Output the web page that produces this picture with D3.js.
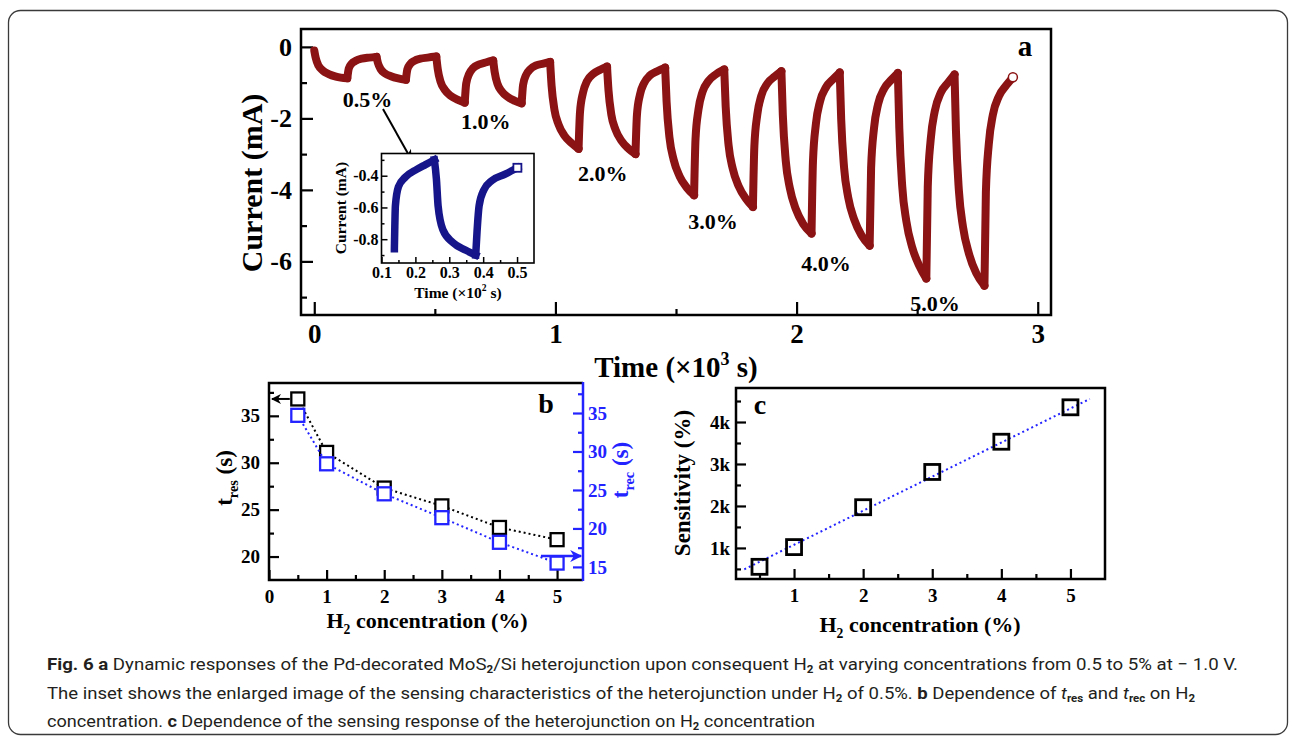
<!DOCTYPE html>
<html>
<head>
<meta charset="utf-8">
<script src="https://cdn.jsdelivr.net/npm/d3@7"></script>
<style>
  body { margin: 0; background: #fff; }
  svg { display: block; }
</style>
</head>
<body>
<svg id="fig" width="1296" height="739"></svg>
<script>
// ---- panel a: current vs time (×10³ s) ----
const timeA = [
  0.000, 0.006, 0.018, 0.035, 0.060, 0.090, 0.137,
  0.143, 0.155, 0.172, 0.197, 0.227, 0.258,
  0.264, 0.276, 0.293, 0.318, 0.348, 0.380,
  0.386, 0.398, 0.415, 0.440, 0.470, 0.506,
  0.512, 0.524, 0.541, 0.566, 0.596, 0.624,
  0.630, 0.642, 0.659, 0.684, 0.714, 0.742,
  0.748, 0.760, 0.777, 0.802, 0.832, 0.860,
  0.866, 0.878, 0.895, 0.920, 0.950, 0.978,
  0.984, 0.996, 1.013, 1.038, 1.068, 1.096,
  1.102, 1.114, 1.131, 1.156, 1.186, 1.214,
  1.220, 1.232, 1.249, 1.274, 1.304, 1.332,
  1.338, 1.350, 1.367, 1.392, 1.422, 1.455,
  1.461, 1.473, 1.490, 1.515, 1.545, 1.575,
  1.581, 1.593, 1.610, 1.635, 1.665, 1.700,
  1.706, 1.718, 1.735, 1.760, 1.790, 1.819,
  1.825, 1.837, 1.854, 1.879, 1.909, 1.937,
  1.943, 1.955, 1.972, 1.997, 2.027, 2.062,
  2.068, 2.080, 2.097, 2.122, 2.152, 2.179,
  2.185, 2.197, 2.214, 2.239, 2.269, 2.303,
  2.309, 2.321, 2.338, 2.363, 2.393, 2.420,
  2.426, 2.438, 2.455, 2.480, 2.510, 2.538,
  2.544, 2.556, 2.573, 2.598, 2.628, 2.655,
  2.661, 2.673, 2.690, 2.715, 2.745, 2.779,
  2.785, 2.797, 2.814, 2.839, 2.869, 2.897
];
const currentA = [
  -0.10, -0.31, -0.53, -0.66, -0.76, -0.83, -0.88,
  -0.61, -0.47, -0.39, -0.33, -0.30, -0.28,
  -0.45, -0.63, -0.74, -0.82, -0.88, -0.92,
  -0.63, -0.48, -0.39, -0.33, -0.30, -0.27,
  -0.62, -0.98, -1.20, -1.37, -1.48, -1.56,
  -1.03, -0.76, -0.59, -0.49, -0.43, -0.38,
  -0.70, -1.04, -1.24, -1.40, -1.51, -1.58,
  -1.06, -0.79, -0.63, -0.52, -0.47, -0.42,
  -1.08, -1.76, -2.17, -2.49, -2.70, -2.85,
  -1.82, -1.29, -0.96, -0.76, -0.64, -0.55,
  -1.21, -1.90, -2.31, -2.63, -2.85, -3.00,
  -1.91, -1.35, -1.02, -0.80, -0.68, -0.58,
  -1.54, -2.54, -3.15, -3.62, -3.94, -4.15,
  -2.57, -1.76, -1.26, -0.95, -0.77, -0.63,
  -1.67, -2.75, -3.40, -3.90, -4.25, -4.48,
  -2.77, -1.90, -1.36, -1.02, -0.83, -0.68,
  -1.91, -3.18, -3.95, -4.54, -4.95, -5.22,
  -3.20, -2.16, -1.53, -1.13, -0.90, -0.72,
  -2.03, -3.38, -4.21, -4.83, -5.27, -5.56,
  -3.39, -2.28, -1.60, -1.17, -0.92, -0.73,
  -2.28, -3.89, -4.87, -5.62, -6.14, -6.48,
  -3.91, -2.60, -1.80, -1.28, -1.00, -0.77,
  -2.37, -4.02, -5.03, -5.79, -6.33, -6.68,
  -4.06, -2.72, -1.90, -1.38, -1.08, -0.85
];
const concLabelsA = ['0.5%', '1.0%', '2.0%', '3.0%', '4.0%', '5.0%'];
const concLabelT = [0.221, 0.711, 1.196, 1.653, 2.122, 2.574];
const concLabelI = [-1.47, -2.07, -3.54, -4.87, -6.06, -7.17];

// inset (time ×10² s as printed)
const timeInset = [0.138, 0.139, 0.141, 0.150, 0.170, 0.204, 0.230, 0.256,
                   0.262, 0.267, 0.281, 0.310, 0.349, 0.378,
                   0.382, 0.388, 0.402, 0.426, 0.465, 0.501];
const currentInset = [-0.86, -0.75, -0.59, -0.47, -0.41, -0.36, -0.33, -0.30,
                      -0.42, -0.59, -0.74, -0.82, -0.87, -0.90,
                      -0.75, -0.59, -0.49, -0.43, -0.39, -0.35];

// ---- panel b ----
const concB = [0.5, 1, 2, 3, 4, 5];
const tRes = [36.8, 31.1, 27.3, 25.4, 23.1, 21.8];
const tRec = [34.7, 28.4, 24.5, 21.4, 18.2, 15.5];

// ---- panel c ----
const concC = [0.5, 1, 2, 3, 4, 5];
const sensitivity = [550, 1020, 1970, 2810, 3530, 4350];
const fitX = [0.28, 5.28];
const fitY = [490, 4550];

const serif = "'Liberation Serif', 'Times New Roman', serif";
const narrow = "'Liberation Sans Narrow', 'Roboto', 'Open Sans', sans-serif";
const RED = '#8b1313';
const NAVY = '#16168a';
const BLUE = '#2323ff';

const svg = d3.select('#fig');
svg.append('rect').attr('width', 1296).attr('height', 739).attr('fill', '#fff');

const defs = svg.append('defs');
function arrowMarker(id, color, w, h) {
    defs.append('marker')
        .attr('id', id)
        .attr('viewBox', '0 0 10 10')
        .attr('refX', 9).attr('refY', 5)
        .attr('markerWidth', w).attr('markerHeight', h)
        .attr('markerUnits', 'userSpaceOnUse')
        .attr('orient', 'auto')
        .append('path').attr('d', 'M0,0 L10,5 L0,10 L3,5 z').attr('fill', color);
}
arrowMarker('arrBlack', '#000', 12, 10);
arrowMarker('arrBlue', BLUE, 14, 12);

// text with sub/superscripts, bold and italic pieces
function richText(parent, x, y, parts, o) {
    const t = parent.append('text')
        .attr('font-family', o.family || serif)
        .attr('font-size', o.size)
        .attr('font-weight', o.weight || 'bold')
        .attr('fill', o.fill || '#000')
        .attr('text-anchor', o.anchor || 'middle');
    if (o.rotate) t.attr('transform', `translate(${x},${y}) rotate(${o.rotate})`);
    else t.attr('x', x).attr('y', y);
    const subShift = o.subShift !== undefined ? o.subShift : 0.28;
    let shift = 0;
    parts.forEach(([s, kind = '']) => {
        const sp = t.append('tspan').text(s);
        const target = kind.includes('sub') ? o.size * subShift : kind.includes('sup') ? -o.size * 0.42 : 0;
        if (target - shift !== 0) sp.attr('dy', target - shift);
        shift = target;
        if (kind.includes('sub') || kind.includes('sup')) sp.attr('font-size', o.size * 0.62);
        if (kind.includes('b')) sp.attr('font-weight', 'bold');
        if (kind.includes('i')) sp.attr('font-style', 'italic');
    });
    if (o.length) t.attr('textLength', o.length).attr('lengthAdjust', 'spacingAndGlyphs');
    return t;
}

function styleAxis(g, size, color) {
    g.select('.domain').remove();
    g.selectAll('.tick line').attr('stroke', color || '#000').attr('stroke-width', 2.2);
    g.selectAll('text')
        .attr('font-family', serif)
        .attr('font-weight', 'bold')
        .attr('font-size', size)
        .attr('fill', color || '#000');
}

function frame(g, box, w) {
    g.append('rect')
        .attr('x', box.l).attr('y', box.t)
        .attr('width', box.r - box.l).attr('height', box.b - box.t)
        .attr('fill', 'none').attr('stroke', '#000').attr('stroke-width', w || 2.5);
}

// split a series where it turns, so each rise/fall is drawn monotone
function splitTurns(xs, ys) {
    const segs = [];
    let cur = [[xs[0], ys[0]]];
    let dir = 0;
    for (let i = 1; i < xs.length; i++) {
        const d = Math.sign(ys[i] - ys[i - 1]);
        if (dir !== 0 && d !== dir) {
            segs.push(cur);
            cur = [[xs[i - 1], ys[i - 1]]];
        }
        cur.push([xs[i], ys[i]]);
        dir = d;
    }
    segs.push(cur);
    return segs;
}

// outer rounded border
svg.append('rect')
    .attr('x', 8.5).attr('y', 10.5).attr('width', 1279).attr('height', 724)
    .attr('rx', 12).attr('fill', 'none').attr('stroke', '#3a3a3a').attr('stroke-width', 1.3);

// =============== panel a ===============
const A = { l: 301, r: 1051, t: 29, b: 315 };
const xA = d3.scaleLinear().domain([-0.055, 3.055]).range([A.l, A.r]);
const yA = d3.scaleLinear().domain([-7.5, 0.5]).range([A.b, A.t]);
const gA = svg.append('g');

gA.append('g').attr('transform', `translate(0,${A.b})`)
    .call(d3.axisBottom(xA).tickValues([0.5, 1.5, 2.5]).tickSize(-6).tickFormat(''))
    .call(g => styleAxis(g, 27));
gA.append('g').attr('transform', `translate(0,${A.b})`)
    .call(d3.axisBottom(xA).tickValues([0, 1, 2, 3]).tickSize(-13).tickPadding(9).tickFormat(d => String(d)))
    .call(g => styleAxis(g, 27));
gA.append('g').attr('transform', `translate(${A.l},0)`)
    .call(d3.axisLeft(yA).tickValues([-1, -3, -5, -7]).tickSize(-6).tickFormat(''))
    .call(g => styleAxis(g, 26));
gA.append('g').attr('transform', `translate(${A.l},0)`)
    .call(d3.axisLeft(yA).tickValues([0, -2, -4, -6]).tickSize(-12).tickPadding(9).tickFormat(d => String(d)))
    .call(g => styleAxis(g, 26));

const lineA = d3.line().x(d => xA(d[0])).y(d => yA(d[1])).curve(d3.curveMonotoneX);
gA.append('g').selectAll('path')
    .data(splitTurns(timeA, currentA))
    .join('path')
    .attr('d', lineA)
    .attr('fill', 'none')
    .attr('stroke', RED)
    .attr('stroke-width', 8)
    .attr('stroke-linecap', 'round')
    .attr('stroke-linejoin', 'round');
// last recorded point: open circle
const nA = timeA.length - 1;
gA.append('circle')
    .attr('cx', xA(timeA[nA])).attr('cy', yA(currentA[nA]))
    .attr('r', 4.5).attr('fill', '#fff').attr('stroke', RED).attr('stroke-width', 1.5);

frame(gA, A);

gA.append('g').selectAll('text')
    .data(concLabelsA)
    .join('text')
    .attr('x', (d, i) => xA(concLabelT[i]))
    .attr('y', (d, i) => yA(concLabelI[i]))
    .attr('dy', '0.35em')
    .attr('text-anchor', 'middle')
    .attr('font-family', serif).attr('font-weight', 'bold').attr('font-size', 22)
    .text(d => d);

gA.append('text')
    .attr('x', 1025).attr('y', 56)
    .attr('text-anchor', 'middle')
    .attr('font-family', serif).attr('font-weight', 'bold').attr('font-size', 29)
    .text('a');

richText(gA, 262, 183, [['Current (mA)']], { size: 30, rotate: -90 });
richText(gA, 676, 377, [['Time (\u00d710'], ['3', 'sup'], [' s)']], { size: 29 });

// ---- inset ----
const I = { l: 381.5, r: 534, t: 153.5, b: 263 };
const xI = d3.scaleLinear().domain([0.1, 0.55]).range([I.l, I.r]);
const yI = d3.scaleLinear().domain([-0.95, -0.26]).range([I.b, I.t]);
const gI = svg.append('g');
gI.append('rect').attr('x', I.l).attr('y', I.t).attr('width', I.r - I.l).attr('height', I.b - I.t).attr('fill', '#fff');

gI.append('g').attr('transform', `translate(0,${I.b})`)
    .call(d3.axisBottom(xI).tickValues([0.15, 0.25, 0.35, 0.45]).tickSize(-3).tickFormat(''))
    .call(g => styleAxis(g, 16));
gI.append('g').attr('transform', `translate(0,${I.b})`)
    .call(d3.axisBottom(xI).tickValues([0.1, 0.2, 0.3, 0.4, 0.5]).tickSize(-6).tickPadding(4).tickFormat(d3.format('.1f')))
    .call(g => styleAxis(g, 16));
gI.append('g').attr('transform', `translate(${I.l},0)`)
    .call(d3.axisLeft(yI).tickValues([-0.3, -0.5, -0.7, -0.9]).tickSize(-3).tickFormat(''))
    .call(g => styleAxis(g, 16));
gI.append('g').attr('transform', `translate(${I.l},0)`)
    .call(d3.axisLeft(yI).tickValues([-0.4, -0.6, -0.8]).tickSize(-6).tickPadding(3).tickFormat(d => d.toFixed(1)))
    .call(g => styleAxis(g, 16));
gI.selectAll('.tick line').attr('stroke-width', 1.5);

const lineI = d3.line().x(d => xI(d[0])).y(d => yI(d[1])).curve(d3.curveMonotoneX);
gI.append('g').selectAll('path')
    .data(splitTurns(timeInset, currentInset))
    .join('path')
    .attr('d', lineI)
    .attr('fill', 'none')
    .attr('stroke', NAVY)
    .attr('stroke-width', 7.5)
    .attr('stroke-linecap', 'square')
    .attr('stroke-linejoin', 'round');
const nI = timeInset.length - 1;
gI.append('rect')
    .attr('x', xI(timeInset[nI]) - 4).attr('y', yI(currentInset[nI]) - 4)
    .attr('width', 8).attr('height', 8)
    .attr('fill', '#fff').attr('stroke', NAVY).attr('stroke-width', 1.8);

frame(gI, I, 1.6);
richText(gI, 346, 208, [['Current (mA)']], { size: 15.5, rotate: -90 });
richText(gI, 458, 298, [['Time (\u00d710'], ['2', 'sup'], [' s)']], { size: 15.5 });

// arrow from the 0.5% label into the inset
gA.append('line')
    .attr('x1', 383).attr('y1', 109).attr('x2', 411).attr('y2', 159)
    .attr('stroke', '#000').attr('stroke-width', 2)
    .attr('marker-end', 'url(#arrBlack)');

// =============== panel b ===============
const B = { l: 269, r: 583, t: 383, b: 580 };
const xB = d3.scaleLinear().domain([0, 5.45]).range([B.l, B.r]);
const yB = d3.scaleLinear().domain([17.5, 38.5]).range([B.b, B.t]);
const yB2 = d3.scaleLinear().domain([13.3, 38.9]).range([B.b, B.t]);
const gB = svg.append('g');

gB.append('g').attr('transform', `translate(0,${B.b})`)
    .call(d3.axisBottom(xB).tickValues([0.5, 1.5, 2.5, 3.5, 4.5]).tickSize(-5).tickFormat(''))
    .call(g => styleAxis(g, 19));
gB.append('g').attr('transform', `translate(0,${B.b})`)
    .call(d3.axisBottom(xB).tickValues([0, 1, 2, 3, 4, 5]).tickSize(-10).tickPadding(10).tickFormat(d => String(d)))
    .call(g => styleAxis(g, 19));
gB.append('g').attr('transform', `translate(${B.l},0)`)
    .call(d3.axisLeft(yB).tickValues([22.5, 27.5, 32.5, 37.5]).tickSize(-5).tickFormat(''))
    .call(g => styleAxis(g, 19));
gB.append('g').attr('transform', `translate(${B.l},0)`)
    .call(d3.axisLeft(yB).tickValues([20, 25, 30, 35]).tickSize(-10).tickPadding(9).tickFormat(d => String(d)))
    .call(g => styleAxis(g, 19));
gB.append('g').attr('transform', `translate(${B.r},0)`)
    .call(d3.axisRight(yB2).tickValues([17.5, 22.5, 27.5, 32.5, 37.5]).tickSize(-5).tickFormat(''))
    .call(g => styleAxis(g, 19, BLUE));
gB.append('g').attr('transform', `translate(${B.r},0)`)
    .call(d3.axisRight(yB2).tickValues([15, 20, 25, 30, 35]).tickSize(-10).tickPadding(5).tickFormat(d => String(d)))
    .call(g => styleAxis(g, 19, BLUE));

// frame: black on three sides, blue right spine
gB.append('path')
    .attr('d', `M${B.r},${B.t}H${B.l}V${B.b}H${B.r}`)
    .attr('fill', 'none').attr('stroke', '#000').attr('stroke-width', 2.5);
gB.append('line')
    .attr('x1', B.r).attr('x2', B.r).attr('y1', B.t - 1).attr('y2', B.b + 1)
    .attr('stroke', BLUE).attr('stroke-width', 2.5);

const seriesB = [
    { vals: tRes, y: yB, color: '#000' },
    { vals: tRec, y: yB2, color: BLUE }
];
seriesB.forEach(s => {
    const pts = concB.map((c, i) => [xB(c), s.y(s.vals[i])]);
    gB.append('path')
        .attr('d', d3.line()(pts))
        .attr('fill', 'none').attr('stroke', s.color)
        .attr('stroke-width', 2).attr('stroke-dasharray', '2,3');
    gB.append('g').selectAll('rect')
        .data(pts)
        .join('rect')
        .attr('x', d => d[0] - 6.5).attr('y', d => d[1] - 6.5)
        .attr('width', 13).attr('height', 13)
        .attr('fill', '#fff').attr('stroke', s.color).attr('stroke-width', 2.3);
});

// axis pointers
gB.append('line')
    .attr('x1', xB(concB[0]) - 8).attr('y1', yB(tRes[0]))
    .attr('x2', B.l + 3).attr('y2', yB(tRes[0]))
    .attr('stroke', '#000').attr('stroke-width', 2)
    .attr('marker-end', 'url(#arrBlack)');
gB.append('line')
    .attr('x1', xB(4.72)).attr('y1', yB2(tRec[5]) - 7)
    .attr('x2', B.r - 2).attr('y2', yB2(tRec[5]) - 7)
    .attr('stroke', BLUE).attr('stroke-width', 2.5)
    .attr('marker-end', 'url(#arrBlue)');

gB.append('text')
    .attr('x', 546).attr('y', 413)
    .attr('text-anchor', 'middle')
    .attr('font-family', serif).attr('font-weight', 'bold').attr('font-size', 28)
    .text('b');

richText(gB, 232, 478, [['t'], ['res', 'sub'], [' (s)']], { size: 23, rotate: -90 });
richText(gB, 628, 470, [['t'], ['rec', 'sub'], [' (s)']], { size: 23, rotate: -90, fill: BLUE });
richText(gB, 427, 628, [['H'], ['2', 'sub'], [' concentration (%)']], { size: 22 });

// =============== panel c ===============
const C = { l: 736, r: 1105, t: 388, b: 579 };
const xC = d3.scaleLinear().domain([0.16, 5.5]).range([C.l, C.r]);
const yC = d3.scaleLinear().domain([260, 4810]).range([C.b, C.t]);
const gC = svg.append('g');

gC.append('g').attr('transform', `translate(0,${C.b})`)
    .call(d3.axisBottom(xC).tickValues([0.5, 1.5, 2.5, 3.5, 4.5]).tickSize(-5).tickFormat(''))
    .call(g => styleAxis(g, 19));
gC.append('g').attr('transform', `translate(0,${C.b})`)
    .call(d3.axisBottom(xC).tickValues([1, 2, 3, 4, 5]).tickSize(-10).tickPadding(10).tickFormat(d => String(d)))
    .call(g => styleAxis(g, 19));
gC.append('g').attr('transform', `translate(${C.l},0)`)
    .call(d3.axisLeft(yC).tickValues([500, 1500, 2500, 3500, 4500]).tickSize(-5).tickFormat(''))
    .call(g => styleAxis(g, 19));
gC.append('g').attr('transform', `translate(${C.l},0)`)
    .call(d3.axisLeft(yC).tickValues([1000, 2000, 3000, 4000]).tickSize(-10).tickPadding(6).tickFormat(d => (d / 1000) + 'k'))
    .call(g => styleAxis(g, 19));

gC.append('line')
    .attr('x1', xC(fitX[0])).attr('y1', yC(fitY[0]))
    .attr('x2', xC(fitX[1])).attr('y2', yC(fitY[1]))
    .attr('stroke', BLUE).attr('stroke-width', 2).attr('stroke-dasharray', '2,3');

gC.append('g').selectAll('rect')
    .data(concC)
    .join('rect')
    .attr('x', (d) => xC(d) - 7.5)
    .attr('y', (d, i) => yC(sensitivity[i]) - 7.5)
    .attr('width', 15).attr('height', 15)
    .attr('fill', 'none').attr('stroke', '#000').attr('stroke-width', 2.8);

frame(gC, C);

gC.append('text')
    .attr('x', 760).attr('y', 414)
    .attr('text-anchor', 'middle')
    .attr('font-family', serif).attr('font-weight', 'bold').attr('font-size', 28)
    .text('c');

richText(gC, 690, 483, [['Sensitivity (%)']], { size: 23, rotate: -90 });
richText(gC, 920, 632, [['H'], ['2', 'sub'], [' concentration (%)']], { size: 22 });

// =============== caption ===============
const capOpts = { family: narrow, size: 17, weight: 'normal', fill: '#231f20', anchor: 'start', subShift: 0.2 };
richText(svg, 47, 670, [
    ['Fig. 6 a', 'b'],
    [' Dynamic responses of the Pd-decorated MoS'], ['2', 'sub'],
    ['/Si heterojunction upon consequent H'], ['2', 'sub'],
    [' at varying concentrations from 0.5 to 5% at \u2212 1.0 V.']
], Object.assign({}, capOpts, { length: 1191 }));
richText(svg, 47, 699, [
    ['The inset shows the enlarged image of the sensing characteristics of the heterojunction under H'], ['2', 'sub'],
    [' of 0.5%. '], ['b', 'b'], [' Dependence of '], ['t', 'i'], ['res', 'sub'],
    [' and '], ['t', 'i'], ['rec', 'sub'], [' on H'], ['2', 'sub']
], Object.assign({}, capOpts, { length: 1148 }));
richText(svg, 47, 727, [
    ['concentration. '], ['c', 'b'],
    [' Dependence of the sensing response of the heterojunction on H'], ['2', 'sub'],
    [' concentration']
], Object.assign({}, capOpts, { length: 768 }));
</script>
</body>
</html>
